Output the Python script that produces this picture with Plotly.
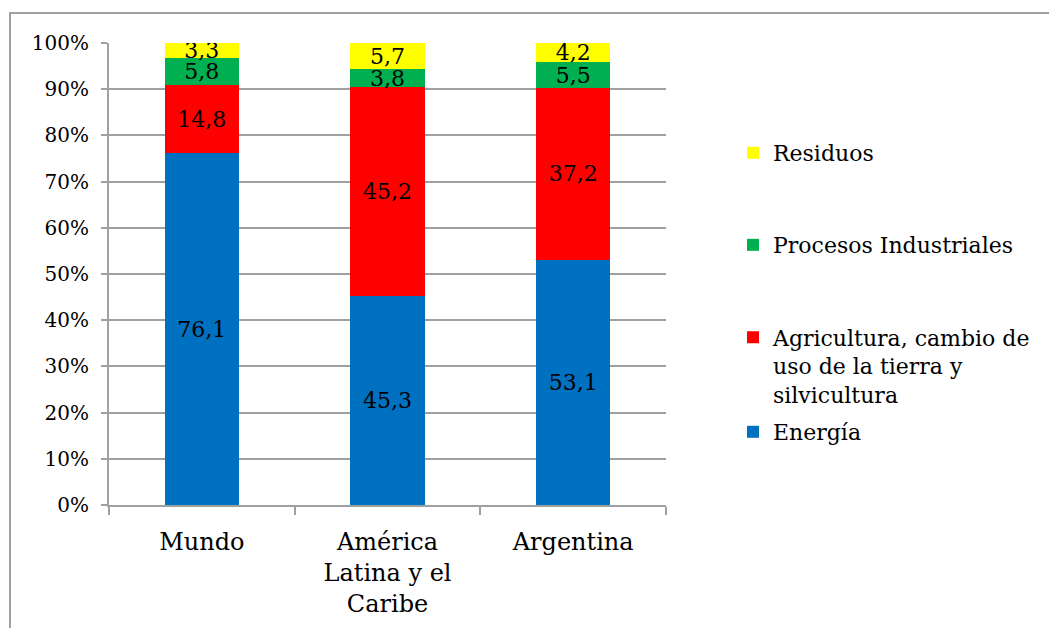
import plotly.graph_objects as go

# Emission shares by sector (%)
regions = ["Mundo", "América<br>Latina y el<br>Caribe", "Argentina"]
energia = [76.1, 45.3, 53.1]
agricultura = [14.8, 45.2, 37.2]
procesos = [5.8, 3.8, 5.5]
residuos = [3.3, 5.7, 4.2]

series = [
    ("Energía", energia, "#0070C0"),
    ("Agricultura, cambio de<br>uso de la tierra y<br>silvicultura", agricultura, "#FF0000"),
    ("Procesos Industriales", procesos, "#00B050"),
    ("Residuos", residuos, "#FFFF00"),
]

W, H = 1049, 628
L, R, T, B = 109, 666, 43, 505  # plot area in pixels
FONT = "DejaVu Serif"
GRAY = "#A0A0A0"


def px_x(x):
    return (x - L) / (R - L)


def px_y(y):
    return (B - y) / (B - T)


# legend entries: legend id, anchor y (pixels), symbol alignment
legend_pos = {
    "Energía": ("legend4", 432, "middle", "middle"),
    "Agricultura, cambio de<br>uso de la tierra y<br>silvicultura": ("legend3", 366, "middle", "top"),
    "Procesos Industriales": ("legend2", 245, "middle", "middle"),
    "Residuos": ("legend", 153, "middle", "middle"),
}

fig = go.Figure()
for name, vals, color in series:
    fig.add_trace(go.Bar(
        x=regions, y=vals, name=name,
        marker=dict(color=color, line=dict(width=0)),
        texttemplate="%{y:.1f}",
        textposition="inside",
        insidetextanchor="middle",
        textangle=0,
        textfont=dict(family=FONT, size=22, color="black"),
        legend=legend_pos[name][0],
    ))

legend_common = dict(
    x=px_x(733), xanchor="left",
    font=dict(family=FONT, size=22, color="black"),
    bgcolor="rgba(0,0,0,0)", borderwidth=0,
)

legend_layout = {}
for name, (lid, ypix, yanchor, valign) in legend_pos.items():
    legend_layout[lid] = dict(y=px_y(ypix), yanchor=yanchor, valign=valign, **legend_common)

fig.update_layout(
    width=W, height=H,
    margin=dict(l=L, r=W - R, t=T, b=H - B, autoexpand=False),
    barmode="stack", bargap=0.6,
    separators=", ",
    plot_bgcolor="white", paper_bgcolor="white",
    font=dict(family=FONT, color="black"),
    uniformtext=dict(minsize=22, mode="show"),
    showlegend=True,
    shapes=[dict(
        type="rect", xref="paper", yref="paper",
        x0=px_x(10), x1=px_x(1200), y0=px_y(800), y1=px_y(13),
        line=dict(color=GRAY, width=2), fillcolor="rgba(0,0,0,0)", layer="below",
    )],
    **legend_layout,
)

fig.update_yaxes(
    range=[0, 100], dtick=10, ticksuffix="%",
    showgrid=True, gridcolor=GRAY, gridwidth=2,
    showline=True, linecolor=GRAY, linewidth=2,
    ticks="outside", ticklen=6, tickcolor=GRAY, tickwidth=2,
    tickfont=dict(family=FONT, size=20, color="black"),
    ticklabelstandoff=8,
    zeroline=False, automargin=False,
)
fig.update_xaxes(
    showline=True, linecolor=GRAY, linewidth=2,
    ticks="outside", tickson="boundaries", ticklen=8, tickcolor=GRAY, tickwidth=2,
    tickfont=dict(family=FONT, size=24, color="black"),
    ticklabelstandoff=14,
    showgrid=False, automargin=False,
)

fig.write_html("out.html")
